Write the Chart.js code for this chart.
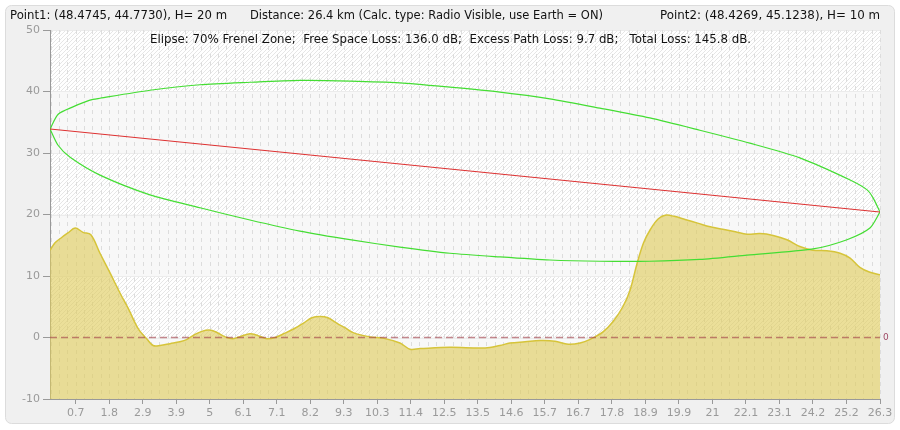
<!DOCTYPE html>
<html>
<head>
<meta charset="utf-8">
<script src="https://cdn.jsdelivr.net/npm/chart.js@4.4.0/dist/chart.umd.min.js"></script>
<style>
html,body{margin:0;padding:0;background:#fff;}
#wrap{width:900px;height:430px;}
</style>
</head>
<body>
<div id="wrap"><canvas id="c" width="900" height="430"></canvas></div>
<script>
// ---- DATA ----
const headerLeft = "Point1: (48.4745, 44.7730), H= 20 m";
const headerMid = "Distance: 26.4 km (Calc. type: Radio Visible, use Earth = ON)";
const headerRight = "Point2: (48.4269, 45.1238), H= 10 m";
const infoLine = "Elipse: 70% Frenel Zone;  Free Space Loss: 136.0 dB;  Excess Path Loss: 9.7 dB;   Total Loss: 145.8 dB.";

const xMax = 26.4;
const xTickLabels = ["0.7","1.8","2.9","3.9","5","6.1","7.1","8.2","9.3","10.3","11.4","12.5","13.5","14.6","15.7","16.7","17.8","18.9","19.9","21","22.1","23.1","24.2","25.2","26.3"];
const xTickStep = 1.066;
const yTicks = [-10,0,10,20,30,40,50];

const terrainKm = [0,0.16,0.38,0.57,0.80,1.05,1.30,1.59,1.91,2.23,2.50,2.80,3.09,3.28,3.50,3.82,4.13,4.36,4.61,4.83,5.06,5.28,5.57,5.82,6.08,6.36,6.62,6.90,7.16,7.47,7.79,8.05,8.33,8.59,8.84,9.13,9.38,9.64,10.18,10.59,11.13,11.45,11.77,12.72,13.84,14.31,14.63,15.11,15.59,16.06,16.48,16.86,17.18,17.59,17.91,18.22,18.45,18.66,18.88,19.10,19.35,19.60,19.85,20.20,20.60,21.00,21.40,21.80,22.17,22.58,23.00,23.44,23.85,24.27,24.71,25.13,25.45,25.76,26.08,26.40];
const terrainM  = [14.2,15.4,16.3,17.0,17.8,17.1,16.7,13.7,10.5,7.2,4.6,1.5,-0.3,-1.3,-1.3,-1.0,-0.7,-0.3,0.5,1.0,1.2,0.9,0.1,-0.2,0.2,0.6,0.3,-0.2,0.0,0.7,1.5,2.3,3.2,3.4,3.2,2.3,1.6,0.8,0.1,-0.1,-0.9,-1.9,-1.8,-1.6,-1.7,-1.3,-0.9,-0.7,-0.5,-0.6,-1.1,-0.9,-0.3,0.9,2.6,5.0,7.7,11.8,15.4,17.6,19.3,19.9,19.7,19.2,18.6,18.0,17.6,17.2,16.8,16.9,16.6,15.9,14.8,14.2,14.1,13.7,12.9,11.4,10.6,10.2];

const ellipseUpperKm = [0,0.26,0.73,1.27,1.59,3.18,4.77,6.36,7.95,9.54,11.13,12.72,14.31,15.90,17.49,19.08,20.67,22.26,23.85,25.45,25.99,26.18,26.40];
const ellipseUpperM  = [33.9,36.3,37.5,38.6,38.9,40.2,41.1,41.5,41.8,41.7,41.4,40.7,39.9,38.8,37.3,35.7,33.7,31.6,29.2,25.6,24.0,22.7,20.4];
const ellipseLowerKm = [0,0.25,0.64,1.59,3.18,4.77,6.36,7.95,9.54,11.13,12.72,14.31,15.90,17.49,19.08,20.67,22.17,24.27,25.35,26.08,26.40];
const ellipseLowerM  = [33.9,31.3,29.3,26.4,23.2,21.1,19.1,17.3,15.9,14.7,13.7,13.1,12.6,12.4,12.4,12.7,13.4,14.4,15.9,17.8,20.4];

const losKm = [0, 26.4];
const losM = [33.9, 20.4];
const zeroKm = [0, 26.4];
const zeroM = [0, 0];

// ---- helpers ----
const pts = (xs, ys) => xs.map((x, i) => ({x: x, y: ys[i]}));
const xTickValues = xTickLabels.map((_, i) => xMax - (xTickLabels.length - 1 - i) * xTickStep);
const FONT = '"DejaVu Sans", Verdana, sans-serif';

function makeHatch(ctx){
  const p = document.createElement('canvas');
  p.width = 4; p.height = 4;
  const g = p.getContext('2d');
  g.fillStyle = '#ffffff'; g.fillRect(0,0,4,4);
  g.strokeStyle = '#e6e6e6'; g.lineWidth = 1;
  g.beginPath();
  g.moveTo(0,4); g.lineTo(4,0);
  g.moveTo(-1,1); g.lineTo(1,-1);
  g.moveTo(3,5); g.lineTo(5,3);
  g.stroke();
  return ctx.createPattern(p, 'repeat');
}

function fitText(ctx, text, size, target){
  ctx.font = size + 'px ' + FONT;
  const w = ctx.measureText(text).width;
  return size * target / w;
}

const bgPlugin = {
  id: 'bg',
  beforeDraw(chart){
    const ctx = chart.ctx, a = chart.chartArea;
    const ys = chart.scales.y, xs = chart.scales.x;
    ctx.save();
    ctx.fillStyle = '#ffffff';
    ctx.fillRect(0,0,chart.width,chart.height);
    // panel
    ctx.beginPath();
    if (ctx.roundRect) ctx.roundRect(5.5,5.5,889,418,6); else ctx.rect(5.5,5.5,889,418);
    ctx.fillStyle = '#f0f0f0';
    ctx.fill();
    ctx.strokeStyle = '#dcdcdc';
    ctx.lineWidth = 1;
    ctx.stroke();
    // bands
    const hatch = makeHatch(ctx);
    for (let i = 0; i < yTicks.length - 1; i++){
      const top = ys.getPixelForValue(yTicks[i+1]);
      const bot = ys.getPixelForValue(yTicks[i]);
      ctx.fillStyle = (i % 2 === 0) ? '#f8f8f8' : hatch;
      ctx.fillRect(a.left, top, a.right - a.left, bot - top);
    }
    // faint horizontal lines
    ctx.strokeStyle = '#ececec';
    ctx.lineWidth = 1;
    yTicks.forEach(v => {
      const y = Math.round(ys.getPixelForValue(v)) + 0.5;
      ctx.beginPath(); ctx.moveTo(a.left, y); ctx.lineTo(a.right, y); ctx.stroke();
    });
    // vertical dashed minor grid
    ctx.setLineDash([4,4]);
    ctx.strokeStyle = '#dddddd';
    const stepPx = xs.getPixelForValue(xTickValues[1]) - xs.getPixelForValue(xTickValues[0]);
    const minor = stepPx / 4;
    let startX = xs.getPixelForValue(xTickValues[0]);
    while (startX - minor > a.left) startX -= minor;
    for (let x = startX; x < a.right; x += minor){
      const px = Math.round(x) + 0.5;
      ctx.beginPath(); ctx.moveTo(px, a.top); ctx.lineTo(px, a.bottom); ctx.stroke();
    }
    ctx.restore();
  },
  afterDraw(chart){
    const ctx = chart.ctx, a = chart.chartArea, ys = chart.scales.y;
    ctx.save();
    ctx.fillStyle = '#111';
    ctx.textBaseline = 'middle';
    let fs = fitText(ctx, headerLeft, 12, 217);
    ctx.font = fs.toFixed(2) + 'px ' + FONT;
    ctx.textAlign = 'left';
    ctx.fillText(headerLeft, 10, 16);
    fs = fitText(ctx, headerMid, 12, 353);
    ctx.font = fs.toFixed(2) + 'px ' + FONT;
    ctx.fillText(headerMid, 250, 16);
    fs = fitText(ctx, headerRight, 12, 220);
    ctx.font = fs.toFixed(2) + 'px ' + FONT;
    ctx.textAlign = 'right';
    ctx.fillText(headerRight, 880, 16);
    fs = fitText(ctx, infoLine, 12, 602);
    ctx.font = fs.toFixed(2) + 'px ' + FONT;
    ctx.textAlign = 'left';
    ctx.fillText(infoLine, 150, 40);
    // right zero label
    ctx.fillStyle = '#a04a66';
    ctx.font = '9px ' + FONT;
    ctx.fillText('0', a.right + 3, ys.getPixelForValue(0));
    ctx.restore();
  }
};

new Chart(document.getElementById('c'), {
  type: 'scatter',
  data: {
    datasets: [
      {
        label: 'LOS',
        data: pts(losKm, losM),
        showLine: true, borderColor: '#dd3030', borderWidth: 1, pointRadius: 0, fill: false, order: 1
      },
      {
        label: 'Fresnel upper',
        data: pts(ellipseUpperKm, ellipseUpperM),
        showLine: true, borderColor: '#44dd33', borderWidth: 1.2, pointRadius: 0, fill: false, tension: 0.25, order: 1
      },
      {
        label: 'Fresnel lower',
        data: pts(ellipseLowerKm, ellipseLowerM),
        showLine: true, borderColor: '#44dd33', borderWidth: 1.2, pointRadius: 0, fill: false, tension: 0.25, order: 1
      },
      {
        label: 'Zero',
        data: pts(zeroKm, zeroM),
        showLine: true, borderColor: 'rgba(160,60,70,0.6)', borderWidth: 1.3, borderDash: [7,4], pointRadius: 0, fill: false, order: 2
      },
      {
        label: 'Terrain',
        data: pts(terrainKm, terrainM),
        showLine: true, borderColor: '#d6c43a', borderWidth: 1.5, pointRadius: 0,
        backgroundColor: 'rgba(222,204,90,0.62)', fill: 'start', tension: 0.35, order: 3
      }
    ]
  },
  options: {
    responsive: false,
    devicePixelRatio: 1,
    animation: false,
    layout: { padding: { top: 30, right: 20, left: 0, bottom: 0 } },
    plugins: { legend: { display: false }, tooltip: { enabled: false } },
    scales: {
      x: {
        type: 'linear', min: 0, max: xMax,
        afterBuildTicks: s => { s.ticks = xTickValues.map(v => ({ value: v })); },
        afterFit: s => { s.height = 31; },
        ticks: {
          autoSkip: false, maxRotation: 0, minRotation: 0,
          color: '#9a9a9a', font: { family: FONT, size: 11 }, padding: 3,
          callback: (v, i) => xTickLabels[i]
        },
        grid: { drawOnChartArea: false, drawTicks: true, tickLength: 5, tickColor: '#999' },
        border: { display: true, color: '#999' }
      },
      y: {
        type: 'linear', min: -10, max: 50,
        afterBuildTicks: s => { s.ticks = yTicks.map(v => ({ value: v })); },
        afterFit: s => { s.width = 50; },
        ticks: { color: '#9a9a9a', font: { family: FONT, size: 11 }, padding: 3 },
        grid: { drawOnChartArea: false, drawTicks: true, tickLength: 7, tickColor: '#999' },
        border: { display: true, color: '#999' }
      }
    }
  },
  plugins: [bgPlugin]
});
</script>
</body>
</html>
